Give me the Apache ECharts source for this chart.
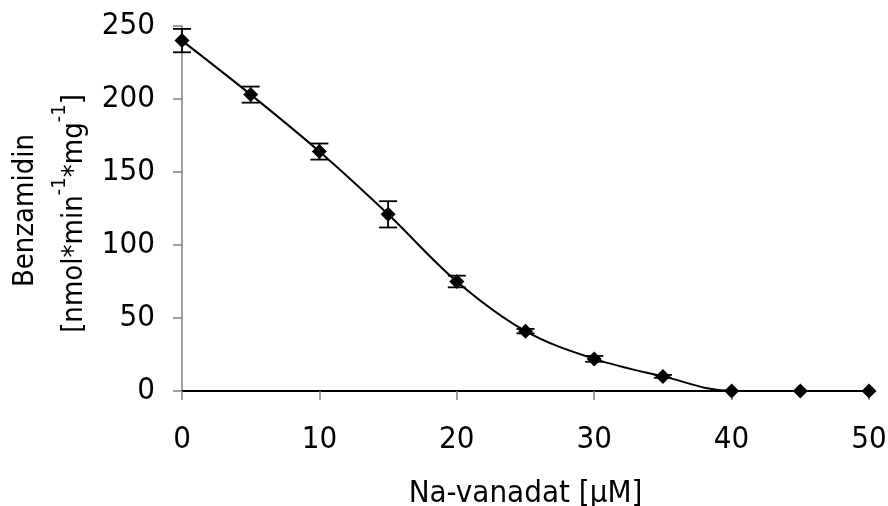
<!DOCTYPE html>
<html>
<head>
<meta charset="utf-8">
<script src="https://cdn.jsdelivr.net/npm/echarts@6/dist/echarts.min.js"></script>
<style>
  html, body { margin: 0; padding: 0; background: #fff; }
  #chart { width: 888px; height: 506px; }
</style>
</head>
<body>
<div id="chart"></div>
<script>
// Na-vanadat concentrations [µM]
const vanadat = [0, 5, 10, 15, 20, 25, 30, 35, 40, 45, 50];
// Benzamidin activity, mean
const activity = [240, 203, 164, 121, 75, 41, 22, 10, 0, 0, 0];
// error (+/-)
const errors = [8, 5.5, 5.5, 9, 4, 1.5, 2, 1, 0, 0, 0];

const font = '"DejaVu Sans Condensed", "DejaVu Sans", sans-serif';

const chart = echarts.init(document.getElementById('chart'));

const lineData = vanadat.map((x, i) => [x, activity[i]]);
const errData = vanadat.map((x, i) => [x, activity[i] - errors[i], activity[i] + errors[i]]);

chart.setOption({
  animation: false,
  grid: { left: 182, right: 19, top: 26, bottom: 115, containLabel: false, outerBoundsMode: 'none' },
  xAxis: {
    type: 'value',
    min: 0,
    max: 50,
    interval: 10,
    name: 'Na-vanadat [µM]',
    nameLocation: 'middle',
    nameGap: 87,
    nameTextStyle: { fontFamily: font, fontSize: 31, color: '#000' },
    axisLine: { show: true, lineStyle: { color: '#000', width: 2 } },
    axisTick: { show: true, inside: false, length: 9, lineStyle: { color: '#808080', width: 1.5 } },
    axisLabel: { fontFamily: font, fontSize: 31, color: '#000', margin: 33 },
    splitLine: { show: false }
  },
  yAxis: {
    type: 'value',
    min: 0,
    max: 250,
    interval: 50,
    name: '{a|Benzamidin}\n{b|[nmol*min}{s|-1}{b|*mg}{s|-1}{e|]}',
    nameLocation: 'middle',
    nameRotate: 90,
    nameGap: 83,
    nameTextStyle: {
      fontFamily: font,
      fontSize: 29,
      color: '#000',
      rich: {
        a: { fontFamily: font, fontSize: 29, lineHeight: 49, color: '#000', padding: [0, 4, 0, 0] },
        b: { fontFamily: font, fontSize: 29, lineHeight: 49, color: '#000' },
        e: { fontFamily: font, fontSize: 29, lineHeight: 49, color: '#000', padding: [0, 10, 0, 0] },
        s: { fontFamily: font, fontSize: 20, lineHeight: 16, verticalAlign: 'top', color: '#000' }
      }
    },
    axisLine: { show: true, lineStyle: { color: '#808080', width: 1.5 } },
    axisTick: { show: true, inside: false, length: 9, lineStyle: { color: '#808080', width: 1.5 } },
    axisLabel: { fontFamily: font, fontSize: 31, color: '#000', margin: 27 },
    splitLine: { show: false }
  },
  series: [
    {
      type: 'line',
      data: lineData,
      smooth: 0.35,
      clip: false,
      symbol: 'diamond',
      symbolSize: [15, 15],
      lineStyle: { color: '#000', width: 2 },
      itemStyle: { color: '#000' },
      z: 2
    },
    {
      type: 'custom',
      data: errData,
      clip: false,
      z: 3,
      renderItem: function (params, api) {
        const x = api.value(0);
        const lo = api.coord([x, api.value(1)]);
        const hi = api.coord([x, api.value(2)]);
        const cap = 9;
        const style = { stroke: '#000', lineWidth: 1.8 };
        if (Math.abs(hi[1] - lo[1]) < 1) {
          return { type: 'group', children: [] };
        }
        return {
          type: 'group',
          children: [
            { type: 'line', shape: { x1: lo[0], y1: lo[1], x2: hi[0], y2: hi[1] }, style: style },
            { type: 'line', shape: { x1: lo[0] - cap, y1: lo[1], x2: lo[0] + cap, y2: lo[1] }, style: style },
            { type: 'line', shape: { x1: hi[0] - cap, y1: hi[1], x2: hi[0] + cap, y2: hi[1] }, style: style }
          ]
        };
      }
    }
  ]
});
</script>
</body>
</html>
